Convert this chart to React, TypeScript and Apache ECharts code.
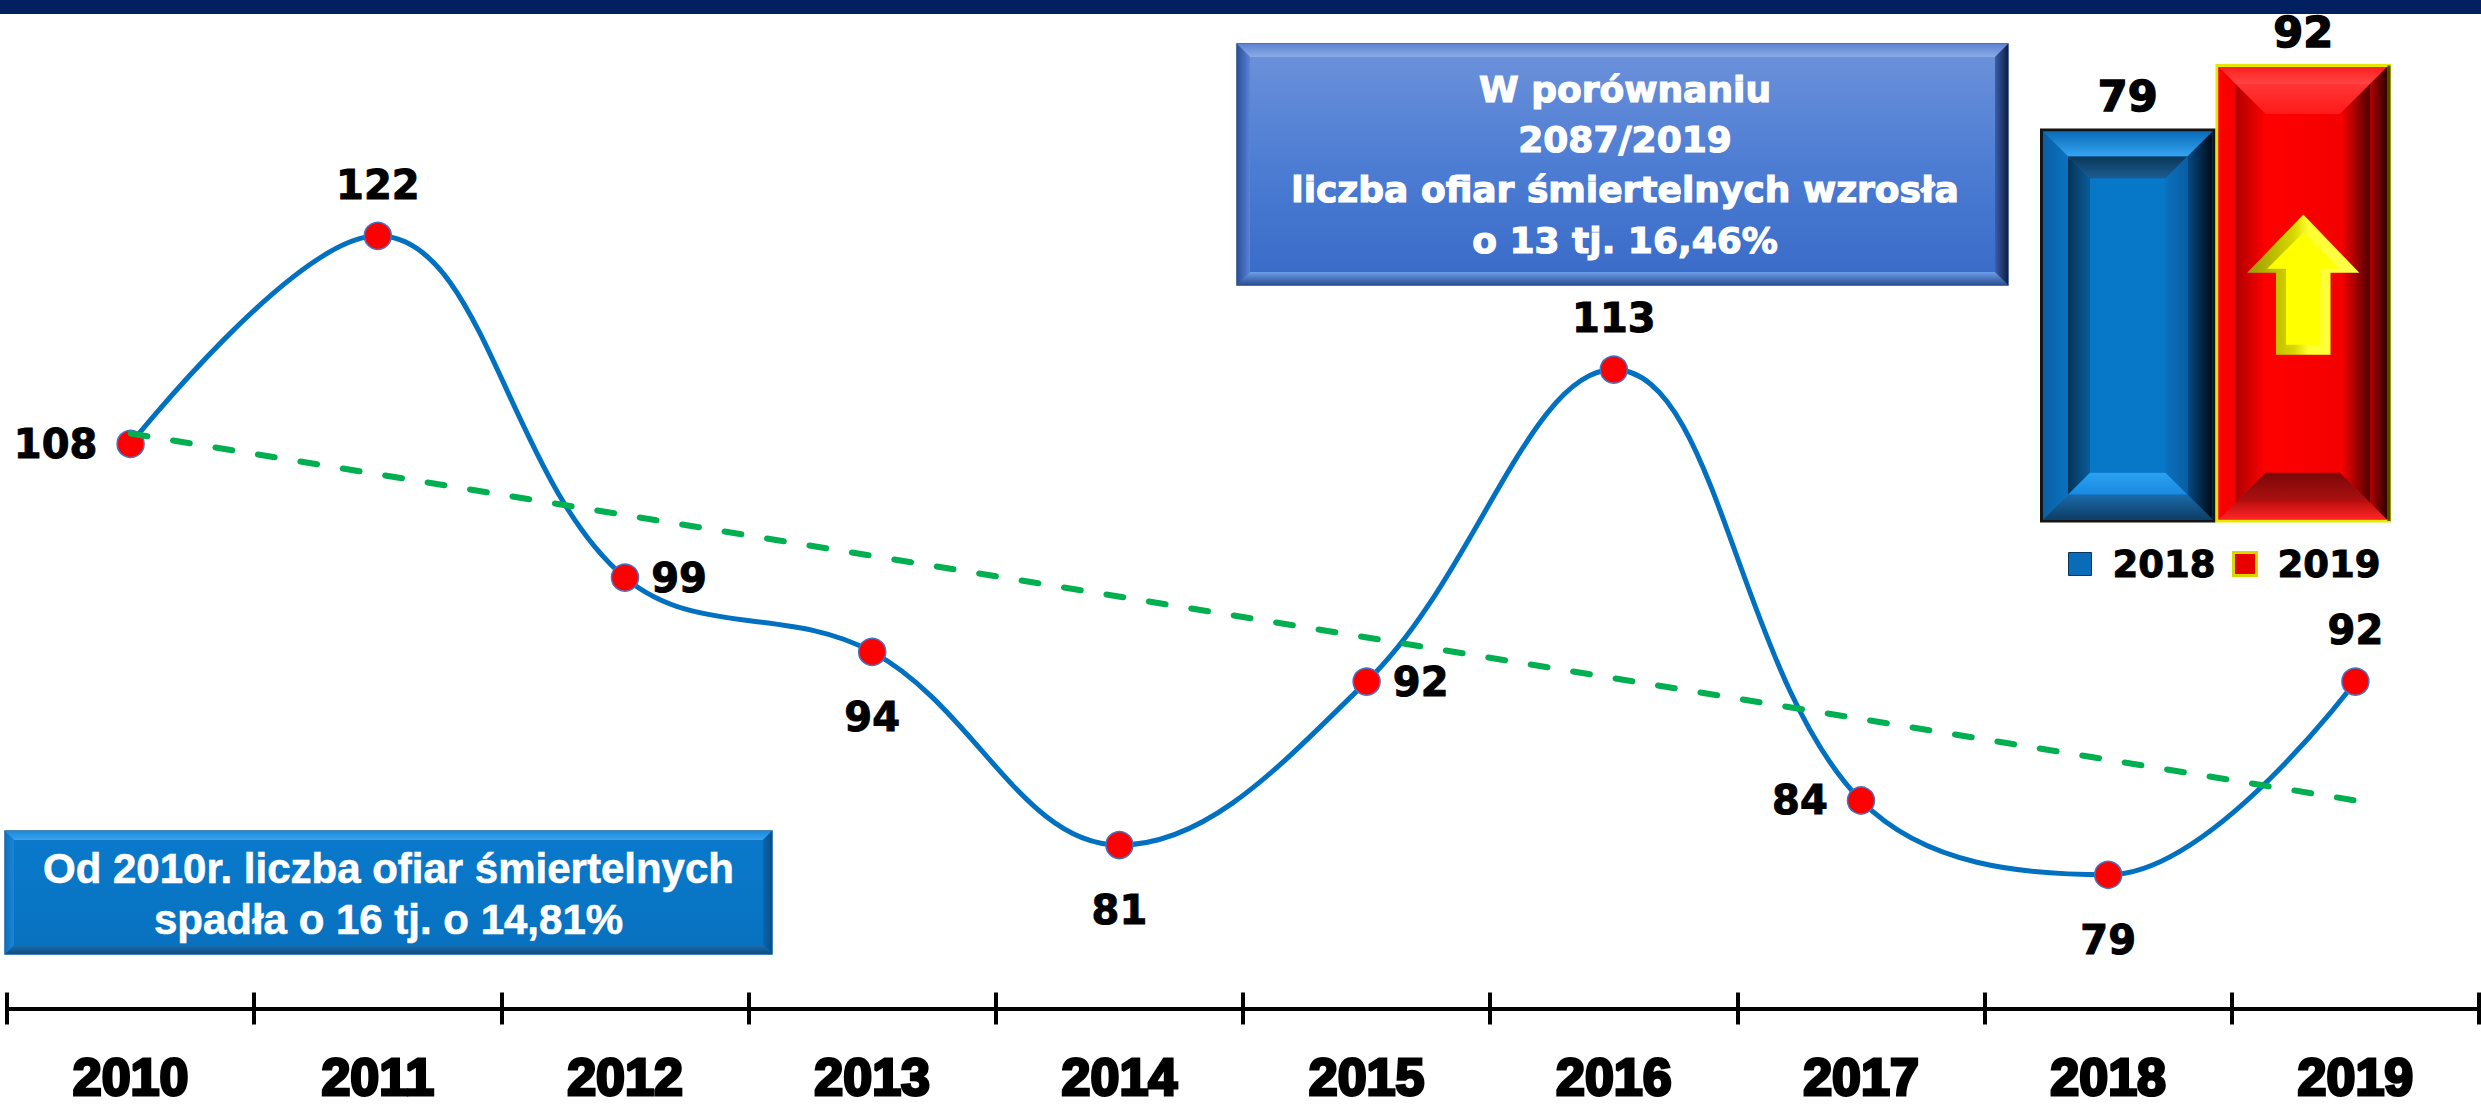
import React, { useEffect, useRef } from 'react';
import * as echarts from 'echarts';

// ---- data ----
const years = ['2010', '2011', '2012', '2013', '2014', '2015', '2016', '2017', '2018', '2019'];
const victims = [108, 122, 99, 94, 81, 92, 113, 84, 79, 92];
const trendStart = 108.7;
const trendEnd = 84.0;
const compareYears = ['2018', '2019'];
const compareValues = [79, 92];
const labelPositions = ['left', 'top', 'right', 'bottom', 'bottom', 'right', 'top', 'left', 'bottom', 'top'];
const leftBoxLines = ['Od 2010r. liczba ofiar śmiertelnych', 'spadła o 16 tj. o 14,81%'];
const rightBoxLines = ['W porównaniu', '2087/2019', 'liczba ofiar śmiertelnych wzrosła', 'o 13 tj. 16,46%'];

// ---- helpers ----
const vg = (a: string, b: string) =>
  new echarts.graphic.LinearGradient(0, 0, 0, 1, [{ offset: 0, color: a }, { offset: 1, color: b }]);
const hg = (a: string, b: string) =>
  new echarts.graphic.LinearGradient(0, 0, 1, 0, [{ offset: 0, color: a }, { offset: 1, color: b }]);

function facets(x: number, y: number, w: number, h: number, b: number, c: any) {
  return [
    { type: 'polygon', shape: { points: [[x, y], [x + w, y], [x + w - b, y + b], [x + b, y + b]] }, style: { fill: c.top } },
    { type: 'polygon', shape: { points: [[x, y + h], [x + b, y + h - b], [x + w - b, y + h - b], [x + w, y + h]] }, style: { fill: c.bottom } },
    { type: 'polygon', shape: { points: [[x, y], [x + b, y + b], [x + b, y + h - b], [x, y + h]] }, style: { fill: c.left } },
    { type: 'polygon', shape: { points: [[x + w, y], [x + w, y + h], [x + w - b, y + h - b], [x + w - b, y + b]] }, style: { fill: c.right } },
  ];
}

const distByPos: Record<string, number> = { top: 17, bottom: 31, left: 19, right: 12 };

function makeBarRenderer(kind: 'blue' | 'red') {
  return (params: any, api: any) => {
    const idx = api.value(0);
    const val = api.value(1);
    const top = api.coord([idx, val]);
    const base = api.coord([idx, 0]);
    const band = api.size([1, 0])[0];
    const w = band - 3;
    const x0 = top[0] - w / 2;
    const y0 = top[1];
    const h = base[1] - top[1];
    const cx = top[0];
    const children: any[] = [];
    if (kind === 'blue') {
      children.push({ type: 'rect', shape: { x: x0, y: y0, width: w, height: h }, style: { fill: '#0A70BE', stroke: '#151515', lineWidth: 3 } });
      children.push(...facets(x0 + 1.5, y0 + 1.5, w - 3, h - 3, 25, {
        top: vg('#0A6CB8', '#35A4F2'), bottom: vg('#1A6AAA', '#0E3E66'),
        left: hg('#0A5FA5', '#0A72C0'), right: hg('#054A85', '#000A14'),
      }));
      children.push(...facets(x0 + 26.5, y0 + 26.5, w - 53, h - 53, 22, {
        top: vg('#0B3858', '#1B5C92'), bottom: vg('#2AA2F2', '#1A8AE0'),
        left: hg('#053356', '#0A5C9A'), right: hg('#0A70BE', '#0A5EA2'),
      }));
      children.push({ type: 'rect', shape: { x: x0 + 48.5, y: y0 + 48.5, width: w - 97, height: h - 97 }, style: { fill: '#0777C8' } });
    } else {
      children.push({ type: 'rect', shape: { x: x0, y: y0, width: w, height: h }, style: { fill: '#FF0000', stroke: '#E6E600', lineWidth: 3 } });
      children.push({ type: 'rect', shape: { x: x0 + w - 2, y: y0, width: 3, height: h }, style: { fill: '#4A4A00' } });
      children.push(...facets(x0 + 1.5, y0 + 1.5, w - 4, h - 3, 17, {
        top: vg('#FF2020', '#FF4545'), bottom: vg('#C01010', '#FF2525'),
        left: hg('#FF0000', '#F20000'), right: hg('#B00000', '#300000'),
      }));
      children.push(...facets(x0 + 18.5, y0 + 18.5, w - 38, h - 37, 30, {
        top: vg('#FF3535', '#FF1A1A'), bottom: vg('#7A0808', '#B01010'),
        left: hg('#B00000', '#FF0000'), right: hg('#FF0000', '#500000'),
      }));
      children.push({ type: 'rect', shape: { x: x0 + 48.5, y: y0 + 48.5, width: w - 98, height: h - 97 }, style: { fill: hg('#FF0000', '#F40000') } });
      // up arrow
      const tipY = y0 + 0.327 * h;
      const headY = y0 + 0.455 * h;
      const botY = y0 + 0.635 * h;
      const hh = 0.325 * w;
      const sh = 0.158 * w;
      const arrow = (t: number, hb: number, b: number, hw: number, sw: number) => [
        [cx, t], [cx + hw, hb], [cx + sw, hb], [cx + sw, b], [cx - sw, b], [cx - sw, hb], [cx - hw, hb],
      ];
      children.push({
        type: 'polygon', shape: { points: arrow(tipY, headY, botY, hh, sh) },
        style: { fill: new echarts.graphic.LinearGradient(0, 0, 1, 0, [
          { offset: 0, color: '#9A9A00' }, { offset: 0.42, color: '#D8D800' }, { offset: 0.55, color: '#FFFF30' }, { offset: 1, color: '#FFFF50' },
        ]) },
      });
      children.push({
        type: 'polygon', shape: { points: arrow(tipY + 18, headY - 4, botY - 10, hh - 20, sh - 10) },
        style: { fill: '#FFFF00' },
      });
    }
    children.push({
      type: 'text', x: cx, y: y0 - 12,
      style: {
        text: String(val), align: 'center', verticalAlign: 'bottom',
        fontFamily: 'DejaVu Sans', fontWeight: 'bold', fontSize: 43,
        fill: '#000', stroke: '#000', lineWidth: 1.5,
      },
    });
    return { type: 'group', children };
  };
}

function bevelBox(x: number, y: number, w: number, h: number, b: number, c: any, lines: string[], font: any, lineYs: number[]) {
  const children: any[] = [
    { type: 'rect', shape: { x: 0, y: 0, width: w, height: h }, style: { fill: c.base, stroke: c.stroke, lineWidth: 1.5 } },
    ...facets(0, 0, w, h, b, c),
    { type: 'rect', shape: { x: b, y: b, width: w - 2 * b, height: h - 2 * b }, style: { fill: c.inner } },
  ];
  lines.forEach((t, i) => {
    children.push({
      type: 'text', x: c.textX, y: lineYs[i],
      style: { text: t, align: 'center', verticalAlign: 'middle', fill: '#fff', ...font },
    });
  });
  return { type: 'group', x, y, children };
}

export default function App() {
  const ref = useRef<HTMLDivElement>(null);
  useEffect(() => {
    const chart = echarts.init(ref.current!, null, { renderer: 'svg' });
    const leftBox = bevelBox(5, 831, 767, 123, 9, {
      base: '#0A77C8', stroke: '#0A5C9E',
      top: vg('#1B8AD9', '#3DA2EE'), left: hg('#0F70BE', '#1A86D6'),
      right: hg('#0A66B0', '#084E88'), bottom: vg('#1C6FB0', '#0E4C80'),
      inner: vg('#0A79CB', '#0872C0'), textX: 383.5,
    }, leftBoxLines, { fontFamily: 'Liberation Sans', fontWeight: 'bold', fontSize: 42, stroke: '#fff', lineWidth: 0.6 }, [37, 88]);
    const rightBox = bevelBox(1237, 44, 771, 241, 13, {
      base: '#4A78CC', stroke: '#22407A',
      top: vg('#5E84D0', '#8AAAE8'), left: hg('#2A4E9A', '#5A84D8'),
      right: hg('#3A5EA8', '#0E1E44'), bottom: vg('#6C9EEA', '#2A4E90'),
      inner: new echarts.graphic.LinearGradient(0, 0, 0, 1, [
        { offset: 0, color: '#6A90DA' }, { offset: 0.5, color: '#4D7DD3' }, { offset: 1, color: '#3A6CC9' },
      ]), textX: 388,
    }, rightBoxLines, { fontFamily: 'DejaVu Sans', fontWeight: 'bold', fontSize: 36, stroke: '#fff', lineWidth: 1.2 }, [45.5, 95.5, 145.5, 196.5]);

    const option: any = {
      animation: false,
      backgroundColor: '#ffffff',
      grid: [
        { left: 7, width: 2472, top: 117, height: 903 },
        { left: 2040, width: 351, top: 26, height: 495 },
      ],
      xAxis: [
        {
          type: 'category', gridIndex: 0, data: years, boundaryGap: true, position: 'bottom',
          axisLine: { show: true, lineStyle: { color: '#000', width: 4 } },
          axisTick: { show: true, interval: 0, length: 16, lineStyle: { color: '#000', width: 4 } },
          axisLabel: {
            interval: 0, margin: 42, fontFamily: 'Liberation Sans', fontWeight: 'bold', fontSize: 52,
            color: '#000', textBorderColor: '#000', textBorderWidth: 3,
          },
          splitLine: { show: false },
        },
        {
          type: 'category', gridIndex: 0, data: years, boundaryGap: true, position: 'bottom', offset: 0,
          axisLine: { show: false },
          axisTick: { show: true, inside: true, interval: 0, length: 16, lineStyle: { color: '#000', width: 4 } },
          axisLabel: { show: false },
          splitLine: { show: false },
        },
        { type: 'category', gridIndex: 1, data: compareYears, show: false },
      ],
      yAxis: [
        { type: 'value', gridIndex: 0, min: 70, max: 130, show: false, splitLine: { show: false } },
        { type: 'value', gridIndex: 1, min: 0, max: 100, show: false, splitLine: { show: false } },
      ],
      legend: {
        data: [
          { name: '2018', icon: 'rect', itemStyle: { color: '#0A6CB8', borderColor: '#06365E', borderWidth: 1 } },
          { name: '2019', icon: 'rect', itemStyle: { color: '#E80000', borderColor: '#D8D800', borderWidth: 3 } },
        ],
        left: 2063, top: 540, itemWidth: 23, itemHeight: 23, itemGap: 16, selectedMode: false,
        textStyle: {
          fontFamily: 'DejaVu Sans', fontWeight: 'bold', fontSize: 37, color: '#000',
          textBorderColor: '#000', textBorderWidth: 1, padding: [0, 0, 0, 16],
        },
      },
      series: [
        {
          type: 'line', name: 'Liczba ofiar', xAxisIndex: 0, yAxisIndex: 0,
          data: victims.map((v, i) => ({
            value: v,
            label: { position: labelPositions[i], distance: distByPos[labelPositions[i]] },
          })),
          smooth: 0.38, symbol: 'circle', symbolSize: 27,
          lineStyle: { color: '#0070C0', width: 5 },
          itemStyle: { color: '#FF0000', borderColor: '#4472C4', borderWidth: 1.5 },
          label: {
            show: true, fontFamily: 'DejaVu Sans', fontWeight: 'bold', fontSize: 40, color: '#000',
            textBorderColor: '#000', textBorderWidth: 1,
          },
          z: 3,
        },
        {
          type: 'line', name: 'trend', xAxisIndex: 0, yAxisIndex: 0,
          data: years.map((_, i) => (i === 0 ? trendStart : i === years.length - 1 ? trendEnd : null)),
          connectNulls: true, symbol: 'none', silent: true,
          lineStyle: { color: '#00B050', width: 6, type: [17, 26], cap: 'round' },
          z: 4,
        },
        {
          type: 'custom', name: '2018', xAxisIndex: 2, yAxisIndex: 1,
          itemStyle: { color: '#0A6CB8' },
          renderItem: makeBarRenderer('blue'),
          encode: { x: 0, y: 1 },
          data: [[0, compareValues[0]]],
        },
        {
          type: 'custom', name: '2019', xAxisIndex: 2, yAxisIndex: 1,
          itemStyle: { color: '#E80000' },
          renderItem: makeBarRenderer('red'),
          encode: { x: 0, y: 1 },
          data: [[1, compareValues[1]]],
        },
      ],
      graphic: [
        { type: 'rect', shape: { x: 0, y: 0, width: 2481, height: 14 }, style: { fill: '#002060' }, z: 10 },
        leftBox,
        rightBox,
      ],
    };
    chart.setOption(option);
    return () => chart.dispose();
  }, []);
  return (
    <div
      ref={ref}
      style={{ position: 'fixed', left: 0, top: 0, width: 2481, height: 1104, background: '#fff' }}
    />
  );
}
